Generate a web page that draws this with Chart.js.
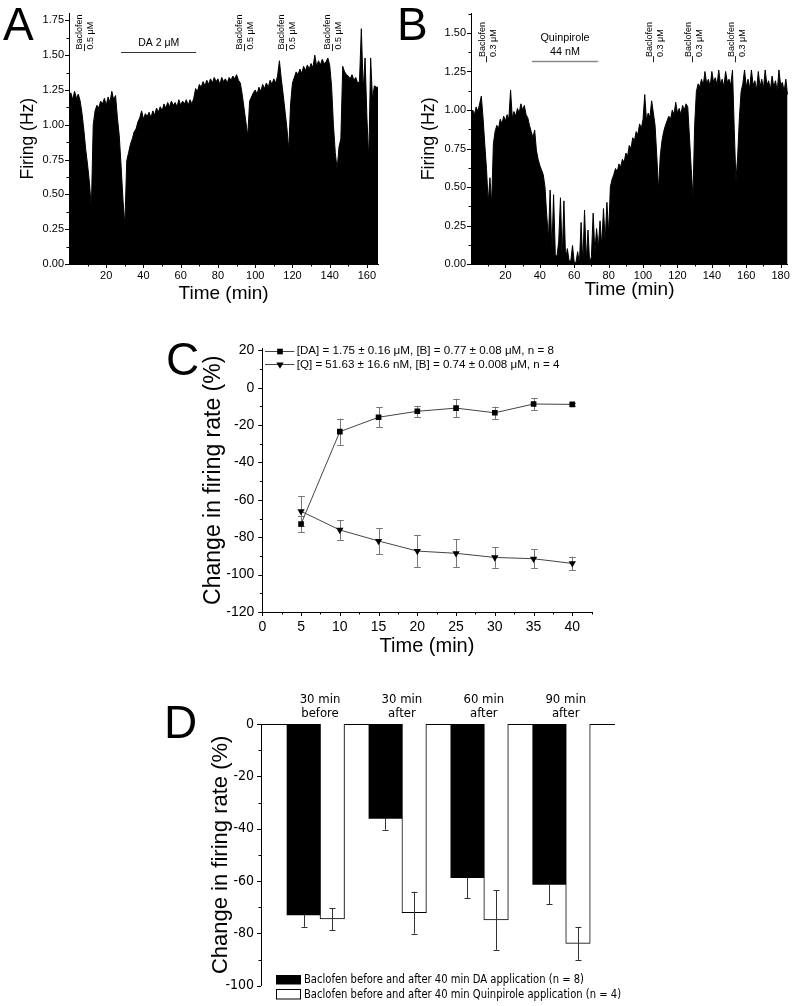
<!DOCTYPE html>
<html><head><meta charset="utf-8">
<script src="https://cdn.jsdelivr.net/npm/chart.js@4.4.0/dist/chart.umd.min.js"></script>
<style>
html,body{margin:0;padding:0;background:#fff;}
#wrap{position:relative;width:795px;height:1006px;overflow:hidden;background:#fff;}
canvas{position:absolute;}
</style></head><body>
<div id="wrap">
<canvas id="cA" width="395" height="310" style="left:0;top:0"></canvas>
<canvas id="cB" width="395" height="310" style="left:400px;top:0"></canvas>
<canvas id="cC" width="460" height="340" style="left:150px;top:330px"></canvas>
<canvas id="cD" width="500" height="326" style="left:150px;top:680px"></canvas>
</div>
<script>
// ---------- DATA ----------
// Panel A: firing rate (Hz), one value per minute from t = 0
const stepA = 1;
const firingA = [1.20,1.23,1.18,1.24,1.19,1.22,1.17,1.08,0.96,0.82,0.71,0.58,0.40,1.00,1.10,1.14,1.12,1.17,1.15,1.19,
1.14,1.20,1.16,1.24,1.18,1.21,1.05,0.92,0.70,0.46,0.28,0.74,0.80,0.86,0.90,0.95,0.97,1.02,1.05,1.10,
1.04,1.08,1.06,1.09,1.05,1.10,1.07,1.12,1.09,1.13,1.10,1.15,1.12,1.16,1.13,1.17,1.14,1.16,1.13,1.18,
1.14,1.17,1.15,1.18,1.14,1.18,1.15,1.19,1.26,1.24,1.29,1.27,1.31,1.28,1.32,1.29,1.33,1.30,1.34,1.31,
1.33,1.29,1.34,1.31,1.33,1.30,1.34,1.32,1.35,1.33,1.36,1.32,1.30,1.22,1.12,1.02,0.92,1.17,1.20,1.23,
1.25,1.22,1.27,1.24,1.29,1.26,1.30,1.27,1.32,1.29,1.33,1.30,1.35,1.46,1.33,1.22,1.10,0.98,0.82,1.15,
1.30,1.34,1.38,1.36,1.40,1.37,1.42,1.39,1.43,1.40,1.44,1.41,1.50,1.42,1.46,1.43,1.47,1.44,1.45,1.48,
1.43,1.28,1.00,0.80,0.68,0.84,0.90,1.42,1.38,1.36,1.35,1.33,1.36,1.32,1.34,1.30,1.31,1.69,1.25,1.48,
1.05,0.75,1.48,1.18,1.28,1.27,1.27];
const baclofenA = [8.1, 94.0, 116.3, 141.2];          // application marks (min)
const daBarA = [28, 68.3];                            // DA 2 µM application (min)
const xMajorA = [20,40,60,80,100,120,140,160];
const xMinorA = [10,30,50,70,90,110,130,150];
const yMajorA = [0,0.25,0.5,0.75,1,1.25,1.5,1.75];
const yMinorA = [0.125,0.375,0.625,0.875,1.125,1.375,1.625];

// Panel B
const stepB = 1;
const firingB = [0.98,1.00,0.97,1.02,0.99,1.04,1.09,0.95,0.78,0.62,0.40,0.56,0.39,0.78,0.86,0.90,0.88,0.94,0.91,0.96,
0.93,0.97,0.94,1.13,0.95,0.99,0.96,1.01,0.98,1.04,1.00,1.03,0.97,0.95,0.90,0.86,0.82,0.87,0.74,0.68,
0.64,0.61,0.58,0.50,0.32,0.16,0.48,0.08,0.45,0.06,0.05,0.15,0.43,0.04,0.41,0.03,0.10,0.02,0.02,0.12,
0.01,0.01,0.08,0.00,0.27,0.00,0.35,0.02,0.22,0.00,0.05,0.33,0.08,0.23,0.10,0.28,0.12,0.36,0.15,0.40,
0.20,0.50,0.55,0.58,0.62,0.60,0.65,0.63,0.68,0.66,0.72,0.70,0.77,0.75,0.82,0.80,0.86,0.84,0.91,0.88,
0.94,1.10,0.93,0.98,0.95,1.06,0.98,0.90,0.70,0.48,0.70,0.80,0.86,0.90,0.93,0.96,0.94,1.00,0.97,1.05,
0.98,1.01,0.97,1.03,1.00,1.04,1.02,0.82,0.62,0.43,0.90,1.12,1.17,1.15,1.20,1.16,1.25,1.17,1.20,1.15,
1.25,1.18,1.21,1.16,1.26,1.17,1.20,1.15,1.25,1.18,1.20,1.16,1.26,0.88,0.54,0.70,0.95,1.12,1.17,1.26,
1.15,1.20,1.14,1.26,1.16,1.19,1.13,1.25,1.15,1.20,1.14,1.26,1.16,1.19,1.13,1.22,1.15,1.19,1.12,1.26,
1.16,1.18,1.12,1.20,1.10];
const baclofenB = [9.0, 105.7, 128.3, 153.3];
const quinBarB = [35.4, 73.9];
const xMajorB = [20,40,60,80,100,120,140,160,180];
const xMinorB = [10,30,50,70,90,110,130,150,170];
const yMajorB = [0,0.25,0.5,0.75,1,1.25,1.5];
const yMinorB = [0.125,0.375,0.625,0.875,1.125,1.375,1.625];

// Panel C
const timeC = [5,10,15,20,25,30,35,40];
const daMean = [-72.9,-23.5,-15.8,-12.6,-10.9,-13.4,-8.7,-8.9];
const daErr  = [4.4,7.0,5.3,3.0,5.0,3.3,3.3,1.0];
const qMean  = [-66.1,-76.1,-82.0,-87.4,-88.6,-90.8,-91.5,-94.0];
const qErr   = [8.0,5.3,7.0,8.7,7.4,5.5,5.2,3.6];
const legendC = ['[DA] = 1.75 \u00b1 0.16 \u03bcM, [B] = 0.77 \u00b1 0.08 \u03bcM, n = 8',
                 '[Q] = 51.63 \u00b1 16.6 nM, [B] = 0.74 \u00b1 0.008 \u03bcM, n = 4'];
const xMajorC = [0,5,10,15,20,25,30,35,40];
const xMinorC = [2.5,7.5,12.5,17.5,22.5,27.5,32.5,37.5,42.5];
const yMajorC = [20,0,-20,-40,-60,-80,-100,-120];
const yMinorC = [10,-10,-30,-50,-70,-90,-110];

// Panel D
const groupsD = [['30 min','before'],['30 min','after'],['60 min','after'],['90 min','after']];
const groupPos = [1,2,3,4];
const daBar = [-73.0,-36.1,-58.7,-61.3];
const daBarErr = [4.5,4.3,7.8,7.6];
const qBar = [-74.5,-72.1,-74.9,-83.8];
const qBarErr = [4.2,8.0,11.4,6.3];
const legendD = ['Baclofen before and after 40 min DA application (n = 8)',
                 'Baclofen before and after 40 min Quinpirole application (n = 4)'];
const yMajorD = [0,-20,-40,-60,-80,-100];
const yMinorD = [-10,-30,-50,-70,-90];

// ---------- HELPERS ----------
const F = "'Liberation Sans', Arial, Helvetica, sans-serif";
const FN = "'Liberation Sans Narrow', 'Arial Narrow', 'DejaVu Sans Condensed', 'Liberation Sans', sans-serif";
Chart.defaults.font.family = F;
Chart.defaults.color = '#000';

function series(vals, step){ return vals.map((v,i)=>({x:i*step, y:v})); }

function tickPlugin(c){
  return {id:'otk', afterDraw(chart){
    const ctx = chart.ctx, ca = chart.chartArea;
    ctx.save(); ctx.strokeStyle = '#000'; ctx.lineWidth = 1;
    if (c.x){
      const s = chart.scales.x;
      [[c.x.major,4],[c.x.minor,2.5]].forEach(([list,len])=>list.forEach(v=>{
        const p = Math.round(s.getPixelForValue(v))+0.5;
        ctx.beginPath(); ctx.moveTo(p, ca.bottom); ctx.lineTo(p, ca.bottom+len); ctx.stroke();
      }));
    }
    if (c.y){
      const s = chart.scales.y;
      [[c.y.major,4],[c.y.minor,2.5]].forEach(([list,len])=>list.forEach(v=>{
        const p = Math.round(s.getPixelForValue(v))+0.5;
        ctx.beginPath(); ctx.moveTo(ca.left, p); ctx.lineTo(ca.left-len, p); ctx.stroke();
      }));
    }
    ctx.restore();
  }};
}
function letter(ctx, t, x, y){
  ctx.save(); ctx.fillStyle='#000'; ctx.font = '46px '+F; ctx.textAlign='left'; ctx.textBaseline='alphabetic';
  ctx.fillText(t, x, y); ctx.restore();
}
function rotText(ctx, text, x, y, font){
  ctx.save(); ctx.translate(x, y); ctx.rotate(-Math.PI/2); ctx.font = font; ctx.fillStyle='#000';
  ctx.textAlign='left'; ctx.textBaseline='middle'; ctx.fillText(text, 0, 0); ctx.restore();
}
function yAxisTrace(min, max, majors, fmt, title, tsize, tpad, width){
  return {min, max, bounds:'data',
    grid:{display:false, drawTicks:false}, border:{display:true, color:'#000', width:1},
    ticks:{padding:5, font:{size:11}, color:'#000', autoSkip:false, callback:v=>fmt(v)},
    afterBuildTicks:s=>{ s.ticks = majors.map(v=>({value:v})); },
    afterFit:s=>{ s.width = width; },
    title:{display:true, text:title, font:{size:tsize}, color:'#000', padding:{top:tpad, bottom:0}}};
}
function xAxisTrace(min, max, majors, tpadBottom, height){
  return {type:'linear', min, max, bounds:'data',
    grid:{display:false, drawTicks:false}, border:{display:true, color:'#000', width:1},
    ticks:{padding:5, font:{size:11}, color:'#000', autoSkip:false, maxRotation:0, callback:v=>String(v)},
    afterBuildTicks:s=>{ s.ticks = majors.map(v=>({value:v})); },
    afterFit:s=>{ s.height = height; },
    title:{display:true, text:'Time (min)', font:{size:19}, color:'#000', padding:{top:0, bottom:tpadBottom}}};
}

// ---------- PANEL A ----------
new Chart(document.getElementById('cA'), {
  type:'line',
  data:{datasets:[{data:series(firingA, stepA), borderColor:'#000', backgroundColor:'#000',
    borderWidth:1, pointRadius:0, fill:'origin', tension:0}]},
  options:{responsive:false, animation:false, devicePixelRatio:1, events:[],
    layout:{padding:{left:0, top:13.4, right:16.9, bottom:0}},
    plugins:{legend:{display:false}, tooltip:{enabled:false}},
    scales:{
      x: xAxisTrace(0, 166, xMajorA, 5.3, 46),
      y: yAxisTrace(0, 1.8, yMajorA, v=>v.toFixed(2), 'Firing (Hz)', 17.5, 17.8, 69)
    }},
  plugins:[tickPlugin({x:{major:xMajorA, minor:xMinorA}, y:{major:yMajorA, minor:yMinorA}}),
    {id:'annA', afterDraw(chart){
      const ctx = chart.ctx, xs = chart.scales.x, ys = chart.scales.y;
      letter(ctx, 'A', 3, 40);
      ctx.save(); ctx.strokeStyle = '#222'; ctx.lineWidth = 1;
      baclofenA.forEach(t=>{
        const p = Math.round(xs.getPixelForValue(t))+0.5;
        ctx.beginPath(); ctx.moveTo(p, ys.getPixelForValue(1.58)); ctx.lineTo(p, ys.getPixelForValue(1.53)); ctx.stroke();
        rotText(ctx, 'Baclofen', p-5, ys.getPixelForValue(1.541), '9px '+F);
        rotText(ctx, '0.5 \u03bcM', p+6, ys.getPixelForValue(1.541), '9px '+F);
      });
      const y = Math.round(ys.getPixelForValue(1.525))+0.5;
      ctx.strokeStyle = '#333';
      ctx.beginPath(); ctx.moveTo(xs.getPixelForValue(daBarA[0]), y); ctx.lineTo(xs.getPixelForValue(daBarA[1]), y); ctx.stroke();
      ctx.fillStyle = '#000'; ctx.font = '10.5px '+F; ctx.textAlign='center'; ctx.textBaseline='middle';
      ctx.fillText('DA 2 \u03bcM', (xs.getPixelForValue(daBarA[0])+xs.getPixelForValue(daBarA[1]))/2, ys.getPixelForValue(1.59));
      ctx.restore();
    }}]
});

// ---------- PANEL B ----------
new Chart(document.getElementById('cB'), {
  type:'line',
  data:{datasets:[{data:series(firingB, stepB), borderColor:'#000', backgroundColor:'#000',
    borderWidth:1, pointRadius:0, fill:'origin', tension:0}]},
  options:{responsive:false, animation:false, devicePixelRatio:1, events:[],
    layout:{padding:{left:0, top:13.75, right:6.7, bottom:0}},
    plugins:{legend:{display:false}, tooltip:{enabled:false}},
    scales:{
      x: xAxisTrace(0, 184.2, xMajorB, 8.6, 46),
      y: yAxisTrace(0, 1.625, yMajorB, v=>v.toFixed(2), 'Firing (Hz)', 17.8, 18.5, 71)
    }},
  plugins:[tickPlugin({x:{major:xMajorB, minor:xMinorB}, y:{major:yMajorB, minor:yMinorB}}),
    {id:'annB', afterDraw(chart){
      const ctx = chart.ctx, xs = chart.scales.x, ys = chart.scales.y;
      letter(ctx, 'B', -3, 40);
      ctx.save(); ctx.strokeStyle = '#222'; ctx.lineWidth = 1;
      baclofenB.forEach(t=>{
        const p = Math.round(xs.getPixelForValue(t))+0.5;
        ctx.beginPath(); ctx.moveTo(p, ys.getPixelForValue(1.35)); ctx.lineTo(p, ys.getPixelForValue(1.31)); ctx.stroke();
        rotText(ctx, 'Baclofen', p-4, ys.getPixelForValue(1.344), '9px '+F);
        rotText(ctx, '0.3 \u03bcM', p+7, ys.getPixelForValue(1.344), '9px '+F);
      });
      const y = Math.round(ys.getPixelForValue(1.318))+0.5;
      ctx.strokeStyle = '#8a8a8a'; ctx.lineWidth = 1.3;
      ctx.beginPath(); ctx.moveTo(xs.getPixelForValue(quinBarB[0]), y); ctx.lineTo(xs.getPixelForValue(quinBarB[1]), y); ctx.stroke();
      const cx = (xs.getPixelForValue(quinBarB[0])+xs.getPixelForValue(quinBarB[1]))/2;
      ctx.fillStyle = '#000'; ctx.font = '10.8px '+F; ctx.textAlign='center'; ctx.textBaseline='middle';
      ctx.fillText('Quinpirole', cx, ys.getPixelForValue(1.468));
      ctx.fillText('44 nM', cx, ys.getPixelForValue(1.379));
      ctx.restore();
    }}]
});

// ---------- PANEL C ----------
function errPlugin(id, pairs, color, capHalf, after){
  const fn = function(chart){
    const ctx = chart.ctx, ys = chart.scales.y;
    ctx.save(); ctx.strokeStyle = color; ctx.lineWidth = 1;
    pairs.forEach(([di, means, errs, lowerOnly])=>{
      const meta = chart.getDatasetMeta(di);
      meta.data.forEach((el, i)=>{
        const x = Math.round(el.x)+0.5;
        const t = ys.getPixelForValue(means[i]+errs[i]), b = ys.getPixelForValue(means[i]-errs[i]);
        const m = ys.getPixelForValue(means[i]);
        ctx.beginPath(); ctx.moveTo(x, lowerOnly ? m : t); ctx.lineTo(x, b);
        if (!lowerOnly){ ctx.moveTo(x-capHalf, Math.round(t)+0.5); ctx.lineTo(x+capHalf, Math.round(t)+0.5); }
        ctx.moveTo(x-capHalf, Math.round(b)+0.5); ctx.lineTo(x+capHalf, Math.round(b)+0.5);
        ctx.stroke();
      });
    });
    ctx.restore();
  };
  return after ? {id, afterDatasetsDraw:fn} : {id, beforeDatasetsDraw:fn};
}
function drawMarker(ctx, style, x, y, r){
  ctx.beginPath();
  if (style === 'rect'){ const s = r*Math.SQRT1_2; ctx.rect(x-s, y-s, 2*s, 2*s); }
  else { ctx.moveTo(x, y+r); ctx.lineTo(x-0.866*r, y-0.5*r); ctx.lineTo(x+0.866*r, y-0.5*r); ctx.closePath(); }
  ctx.fill();
}
new Chart(document.getElementById('cC'), {
  type:'line',
  data:{datasets:[
    {data:timeC.map((t,i)=>({x:t, y:daMean[i]})), borderColor:'#444', backgroundColor:'#000',
      borderWidth:1, pointStyle:'rect', pointRadius:4, pointBackgroundColor:'#000', pointBorderColor:'#000', pointBorderWidth:0, tension:0},
    {data:timeC.map((t,i)=>({x:t, y:qMean[i]})), borderColor:'#444', backgroundColor:'#000',
      borderWidth:1, pointStyle:'triangle', pointRotation:180, pointRadius:4.2, pointBackgroundColor:'#000', pointBorderColor:'#000', pointBorderWidth:0, tension:0}
  ]},
  options:{responsive:false, animation:false, devicePixelRatio:1, events:[],
    layout:{padding:{left:0, top:18.5, right:18.3, bottom:0}},
    plugins:{legend:{display:false}, tooltip:{enabled:false}},
    scales:{
      x:{type:'linear', min:0, max:42.5, bounds:'data',
        grid:{display:false, drawTicks:false}, border:{display:true, color:'#000', width:1},
        ticks:{padding:6.3, font:{size:14}, color:'#000', autoSkip:false, maxRotation:0, callback:v=>String(v)},
        afterBuildTicks:s=>{ s.ticks = xMajorC.map(v=>({value:v})); },
        afterFit:s=>{ s.height = 58; },
        title:{display:true, text:'Time (min)', font:{size:20}, color:'#000', padding:{top:0, bottom:11.3}}},
      y:{min:-120, max:21, bounds:'data',
        grid:{display:false, drawTicks:false}, border:{display:true, color:'#000', width:1},
        ticks:{padding:8, font:{size:14}, color:'#000', autoSkip:false, callback:v=>String(v)},
        afterBuildTicks:s=>{ s.ticks = yMajorC.map(v=>({value:v})); },
        afterFit:s=>{ s.width = 112.3; },
        title:{display:true, text:'Change in firing rate (%)', font:{size:23}, color:'#000', padding:{top:49.5, bottom:0}}}
    }},
  plugins:[tickPlugin({x:{major:xMajorC, minor:xMinorC}, y:{major:yMajorC, minor:yMinorC}}),
    errPlugin('errC', [[0, daMean, daErr, false],[1, qMean, qErr, false]], '#777', 3.3, false),
    {id:'legC', afterDraw(chart){
      const ctx = chart.ctx;
      letter(ctx, 'C', 16, 45);
      const rows = [[20.7, 'rect', 4, legendC[0]], [34.3, 'tri', 4.2, legendC[1]]];
      ctx.save();
      rows.forEach(([y, st, r, txt])=>{
        ctx.strokeStyle = '#444'; ctx.lineWidth = 1;
        ctx.beginPath(); ctx.moveTo(115, Math.round(y)+0.5); ctx.lineTo(144.3, Math.round(y)+0.5); ctx.stroke();
        ctx.fillStyle = '#000'; drawMarker(ctx, st, 130, Math.round(y)+0.5, r);
        ctx.font = '11.6px '+F; ctx.textAlign='left'; ctx.textBaseline='middle';
        ctx.fillText(txt, 146.7, y+0.5);
      });
      ctx.restore();
    }}]
});

// ---------- PANEL D ----------
new Chart(document.getElementById('cD'), {
  type:'bar',
  data:{datasets:[
    {data:groupPos.map((p,i)=>({x:p, y:daBar[i]})), backgroundColor:'#000', borderWidth:0, barThickness:33, order:1},
    {data:groupPos.map((p,i)=>({x:p, y:qBar[i]})), backgroundColor:'#fff', borderColor:'#000', borderWidth:1, barThickness:24.5, order:2}
  ]},
  options:{responsive:false, animation:false, devicePixelRatio:1, events:[],
    layout:{padding:{left:0, top:0, right:35.7, bottom:20.3}},
    plugins:{legend:{display:false}, tooltip:{enabled:false}},
    scales:{
      x:{type:'linear', position:'top', min:0.2796, max:4.593, bounds:'data', offset:false,
        grid:{display:false, drawTicks:false}, border:{display:true, color:'#000', width:1},
        ticks:{padding:3, font:{size:13, family:FN, lineHeight:'14px'}, color:'#000', autoSkip:false, maxRotation:0,
          callback:v=>{ const i = groupPos.indexOf(v); return i>=0 ? groupsD[i] : ''; }},
        afterBuildTicks:s=>{ s.ticks = groupPos.map(v=>({value:v})); },
        afterFit:s=>{ s.height = 44; }},
      y:{min:-100, max:0, bounds:'data',
        grid:{display:false, drawTicks:false}, border:{display:true, color:'#000', width:1},
        ticks:{padding:7, font:{size:14, family:FN}, color:'#000', autoSkip:false, callback:v=>String(v)},
        afterBuildTicks:s=>{ s.ticks = yMajorD.map(v=>({value:v})); },
        afterFit:s=>{ s.width = 111; },
        title:{display:true, text:'Change in firing rate (%)', font:{size:22}, color:'#000', padding:{top:57.5, bottom:0}}}
    }},
  plugins:[tickPlugin({y:{major:yMajorD, minor:yMinorD}}),
    errPlugin('errD', [[0, daBar, daBarErr, true],[1, qBar, qBarErr, false]], '#333', 3, true),
    {id:'legD', afterDraw(chart){
      const ctx = chart.ctx;
      letter(ctx, 'D', 14, 58);
      ctx.save();
      ctx.fillStyle = '#000'; ctx.fillRect(126, 295, 25, 9.5);
      ctx.fillStyle = '#fff'; ctx.strokeStyle = '#000'; ctx.lineWidth = 1;
      ctx.fillRect(126, 309.5, 25, 9.5); ctx.strokeRect(126.5, 309.5, 24, 9.5);
      ctx.fillStyle = '#000'; ctx.font = '12.5px '+FN; ctx.textAlign='left'; ctx.textBaseline='middle';
      const w0 = ctx.measureText(legendD[0]).width;
      const k = Math.min(1, 280 / w0);
      ctx.translate(154, 0); ctx.scale(k, 1);
      ctx.fillText(legendD[0], 0, 300);
      ctx.fillText(legendD[1], 0, 314.5);
      ctx.restore();
    }}]
});
</script>
</body></html>
